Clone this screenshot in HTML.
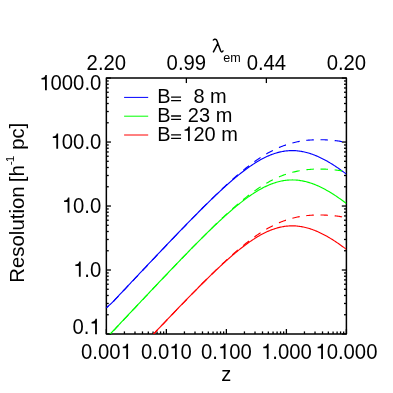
<!DOCTYPE html>
<html><head><meta charset="utf-8"><style>
html,body{margin:0;padding:0;background:#fff;}
svg{display:block;will-change:transform;}
text{font-family:"Liberation Sans",sans-serif;font-size:20.3px;fill:#000;}
</style></head><body>
<svg width="393" height="393" viewBox="0 0 393 393">
<rect width="393" height="393" fill="#fff"/>
<defs><clipPath id="c"><rect x="106.35" y="78.05" width="240.04999999999998" height="255.95"/></clipPath></defs>
<g stroke="#000" stroke-width="1.3">
<line x1="106.35" y1="334.00" x2="106.35" y2="329.00"/>
<line x1="124.42" y1="334.00" x2="124.42" y2="331.40"/>
<line x1="134.98" y1="334.00" x2="134.98" y2="331.40"/>
<line x1="142.48" y1="334.00" x2="142.48" y2="331.40"/>
<line x1="148.30" y1="334.00" x2="148.30" y2="331.40"/>
<line x1="153.05" y1="334.00" x2="153.05" y2="331.40"/>
<line x1="157.07" y1="334.00" x2="157.07" y2="331.40"/>
<line x1="160.55" y1="334.00" x2="160.55" y2="331.40"/>
<line x1="163.62" y1="334.00" x2="163.62" y2="331.40"/>
<line x1="166.36" y1="334.00" x2="166.36" y2="329.00"/>
<line x1="184.43" y1="334.00" x2="184.43" y2="331.40"/>
<line x1="195.00" y1="334.00" x2="195.00" y2="331.40"/>
<line x1="202.49" y1="334.00" x2="202.49" y2="331.40"/>
<line x1="208.31" y1="334.00" x2="208.31" y2="331.40"/>
<line x1="213.06" y1="334.00" x2="213.06" y2="331.40"/>
<line x1="217.08" y1="334.00" x2="217.08" y2="331.40"/>
<line x1="220.56" y1="334.00" x2="220.56" y2="331.40"/>
<line x1="223.63" y1="334.00" x2="223.63" y2="331.40"/>
<line x1="226.38" y1="334.00" x2="226.38" y2="329.00"/>
<line x1="244.44" y1="334.00" x2="244.44" y2="331.40"/>
<line x1="255.01" y1="334.00" x2="255.01" y2="331.40"/>
<line x1="262.51" y1="334.00" x2="262.51" y2="331.40"/>
<line x1="268.32" y1="334.00" x2="268.32" y2="331.40"/>
<line x1="273.07" y1="334.00" x2="273.07" y2="331.40"/>
<line x1="277.09" y1="334.00" x2="277.09" y2="331.40"/>
<line x1="280.57" y1="334.00" x2="280.57" y2="331.40"/>
<line x1="283.64" y1="334.00" x2="283.64" y2="331.40"/>
<line x1="286.39" y1="334.00" x2="286.39" y2="329.00"/>
<line x1="304.45" y1="334.00" x2="304.45" y2="331.40"/>
<line x1="315.02" y1="334.00" x2="315.02" y2="331.40"/>
<line x1="322.52" y1="334.00" x2="322.52" y2="331.40"/>
<line x1="328.33" y1="334.00" x2="328.33" y2="331.40"/>
<line x1="333.09" y1="334.00" x2="333.09" y2="331.40"/>
<line x1="337.10" y1="334.00" x2="337.10" y2="331.40"/>
<line x1="340.58" y1="334.00" x2="340.58" y2="331.40"/>
<line x1="343.65" y1="334.00" x2="343.65" y2="331.40"/>
<line x1="346.40" y1="334.00" x2="346.40" y2="329.00"/>
<line x1="106.35" y1="334.00" x2="110.95" y2="334.00"/>
<line x1="346.40" y1="334.00" x2="341.80" y2="334.00"/>
<line x1="106.35" y1="314.74" x2="108.75" y2="314.74"/>
<line x1="346.40" y1="314.74" x2="344.00" y2="314.74"/>
<line x1="106.35" y1="303.47" x2="108.75" y2="303.47"/>
<line x1="346.40" y1="303.47" x2="344.00" y2="303.47"/>
<line x1="106.35" y1="295.48" x2="108.75" y2="295.48"/>
<line x1="346.40" y1="295.48" x2="344.00" y2="295.48"/>
<line x1="106.35" y1="289.27" x2="108.75" y2="289.27"/>
<line x1="346.40" y1="289.27" x2="344.00" y2="289.27"/>
<line x1="106.35" y1="284.21" x2="108.75" y2="284.21"/>
<line x1="346.40" y1="284.21" x2="344.00" y2="284.21"/>
<line x1="106.35" y1="279.92" x2="108.75" y2="279.92"/>
<line x1="346.40" y1="279.92" x2="344.00" y2="279.92"/>
<line x1="106.35" y1="276.21" x2="108.75" y2="276.21"/>
<line x1="346.40" y1="276.21" x2="344.00" y2="276.21"/>
<line x1="106.35" y1="272.94" x2="108.75" y2="272.94"/>
<line x1="346.40" y1="272.94" x2="344.00" y2="272.94"/>
<line x1="106.35" y1="270.01" x2="110.95" y2="270.01"/>
<line x1="346.40" y1="270.01" x2="341.80" y2="270.01"/>
<line x1="106.35" y1="250.75" x2="108.75" y2="250.75"/>
<line x1="346.40" y1="250.75" x2="344.00" y2="250.75"/>
<line x1="106.35" y1="239.48" x2="108.75" y2="239.48"/>
<line x1="346.40" y1="239.48" x2="344.00" y2="239.48"/>
<line x1="106.35" y1="231.49" x2="108.75" y2="231.49"/>
<line x1="346.40" y1="231.49" x2="344.00" y2="231.49"/>
<line x1="106.35" y1="225.29" x2="108.75" y2="225.29"/>
<line x1="346.40" y1="225.29" x2="344.00" y2="225.29"/>
<line x1="106.35" y1="220.22" x2="108.75" y2="220.22"/>
<line x1="346.40" y1="220.22" x2="344.00" y2="220.22"/>
<line x1="106.35" y1="215.94" x2="108.75" y2="215.94"/>
<line x1="346.40" y1="215.94" x2="344.00" y2="215.94"/>
<line x1="106.35" y1="212.23" x2="108.75" y2="212.23"/>
<line x1="346.40" y1="212.23" x2="344.00" y2="212.23"/>
<line x1="106.35" y1="208.95" x2="108.75" y2="208.95"/>
<line x1="346.40" y1="208.95" x2="344.00" y2="208.95"/>
<line x1="106.35" y1="206.03" x2="110.95" y2="206.03"/>
<line x1="346.40" y1="206.03" x2="341.80" y2="206.03"/>
<line x1="106.35" y1="186.76" x2="108.75" y2="186.76"/>
<line x1="346.40" y1="186.76" x2="344.00" y2="186.76"/>
<line x1="106.35" y1="175.50" x2="108.75" y2="175.50"/>
<line x1="346.40" y1="175.50" x2="344.00" y2="175.50"/>
<line x1="106.35" y1="167.50" x2="108.75" y2="167.50"/>
<line x1="346.40" y1="167.50" x2="344.00" y2="167.50"/>
<line x1="106.35" y1="161.30" x2="108.75" y2="161.30"/>
<line x1="346.40" y1="161.30" x2="344.00" y2="161.30"/>
<line x1="106.35" y1="156.23" x2="108.75" y2="156.23"/>
<line x1="346.40" y1="156.23" x2="344.00" y2="156.23"/>
<line x1="106.35" y1="151.95" x2="108.75" y2="151.95"/>
<line x1="346.40" y1="151.95" x2="344.00" y2="151.95"/>
<line x1="106.35" y1="148.24" x2="108.75" y2="148.24"/>
<line x1="346.40" y1="148.24" x2="344.00" y2="148.24"/>
<line x1="106.35" y1="144.97" x2="108.75" y2="144.97"/>
<line x1="346.40" y1="144.97" x2="344.00" y2="144.97"/>
<line x1="106.35" y1="142.04" x2="110.95" y2="142.04"/>
<line x1="346.40" y1="142.04" x2="341.80" y2="142.04"/>
<line x1="106.35" y1="122.78" x2="108.75" y2="122.78"/>
<line x1="346.40" y1="122.78" x2="344.00" y2="122.78"/>
<line x1="106.35" y1="111.51" x2="108.75" y2="111.51"/>
<line x1="346.40" y1="111.51" x2="344.00" y2="111.51"/>
<line x1="106.35" y1="103.51" x2="108.75" y2="103.51"/>
<line x1="346.40" y1="103.51" x2="344.00" y2="103.51"/>
<line x1="106.35" y1="97.31" x2="108.75" y2="97.31"/>
<line x1="346.40" y1="97.31" x2="344.00" y2="97.31"/>
<line x1="106.35" y1="92.25" x2="108.75" y2="92.25"/>
<line x1="346.40" y1="92.25" x2="344.00" y2="92.25"/>
<line x1="106.35" y1="87.96" x2="108.75" y2="87.96"/>
<line x1="346.40" y1="87.96" x2="344.00" y2="87.96"/>
<line x1="106.35" y1="84.25" x2="108.75" y2="84.25"/>
<line x1="346.40" y1="84.25" x2="344.00" y2="84.25"/>
<line x1="106.35" y1="80.98" x2="108.75" y2="80.98"/>
<line x1="346.40" y1="80.98" x2="344.00" y2="80.98"/>
<line x1="106.35" y1="78.05" x2="110.95" y2="78.05"/>
<line x1="346.40" y1="78.05" x2="341.80" y2="78.05"/>
<line x1="186.37" y1="78.05" x2="186.37" y2="83.05"/>
<line x1="266.38" y1="78.05" x2="266.38" y2="83.05"/>
</g>
<rect x="106.35" y="78.05" width="240.04999999999998" height="255.95" fill="none" stroke="#000" stroke-width="1.5" stroke-linejoin="round"/>
<g clip-path="url(#c)">
<path d="M106.35,307.70 L107.35,306.85 L108.35,305.99 L109.35,305.14 L110.35,304.28 L111.35,303.43 L112.35,302.41 L113.35,301.35 L114.35,300.29 L115.35,299.22 L116.35,298.16 L117.35,297.09 L118.35,296.03 L119.35,294.97 L120.35,293.90 L121.35,292.84 L122.35,291.78 L123.35,290.71 L124.35,289.65 L125.35,288.59 L126.35,287.53 L127.35,286.46 L128.35,285.40 L129.35,284.34 L130.35,283.28 L131.36,282.22 L132.36,281.16 L133.36,280.09 L134.36,279.03 L135.36,277.97 L136.36,276.91 L137.36,275.85 L138.36,274.79 L139.36,273.73 L140.36,272.67 L141.36,271.61 L142.36,270.55 L143.36,269.49 L144.36,268.43 L145.36,267.38 L146.36,266.32 L147.36,265.26 L148.36,264.20 L149.36,263.15 L150.36,262.09 L151.36,261.03 L152.36,259.98 L153.36,258.92 L154.36,257.87 L155.36,256.81 L156.36,255.76 L157.36,254.71 L158.36,253.65 L159.36,252.60 L160.36,251.55 L161.36,250.50 L162.36,249.45 L163.36,248.39 L164.36,247.35 L165.36,246.30 L166.36,245.25 L167.36,244.20 L168.36,243.15 L169.36,242.11 L170.36,241.06 L171.36,240.02 L172.36,238.97 L173.36,237.93 L174.36,236.89 L175.36,235.85 L176.36,234.81 L177.36,233.77 L178.36,232.73 L179.37,231.69 L180.37,230.66 L181.37,229.62 L182.37,228.59 L183.37,227.56 L184.37,226.53 L185.37,225.50 L186.37,224.47 L187.37,223.45 L188.37,222.42 L189.37,221.40 L190.37,220.38 L191.37,219.36 L192.37,218.34 L193.37,217.32 L194.37,216.31 L195.37,215.30 L196.37,214.29 L197.37,213.28 L198.37,212.27 L199.37,211.27 L200.37,210.27 L201.37,209.27 L202.37,208.27 L203.37,207.28 L204.37,206.29 L205.37,205.30 L206.37,204.31 L207.37,203.33 L208.37,202.35 L209.37,201.38 L210.37,200.41 L211.37,199.44 L212.37,198.47 L213.37,197.51 L214.37,196.55 L215.37,195.60 L216.37,194.65 L217.37,193.71 L218.37,192.76 L219.37,191.83 L220.37,190.90 L221.37,189.97 L222.37,189.05 L223.37,188.13 L224.37,187.22 L225.37,186.32 L226.38,185.42 L227.38,184.53 L228.38,183.64 L229.38,182.76 L230.38,181.88 L231.38,181.02 L232.38,180.16 L233.38,179.30 L234.38,178.46 L235.38,177.62 L236.38,176.79 L237.38,175.97 L238.38,175.15 L239.38,174.35 L240.38,173.55 L241.38,172.76 L242.38,171.98 L243.38,171.22 L244.38,170.46 L245.38,169.71 L246.38,168.97 L247.38,168.24 L248.38,167.52 L249.38,166.82 L250.38,166.12 L251.38,165.44 L252.38,164.77 L253.38,164.11 L254.38,163.46 L255.38,162.83 L256.38,162.21 L257.38,161.60 L258.38,161.01 L259.38,160.43 L260.38,159.87 L261.38,159.31 L262.38,158.78 L263.38,158.26 L264.38,157.75 L265.38,157.26 L266.38,156.79 L267.38,156.33 L268.38,155.89 L269.38,155.46 L270.38,155.05 L271.38,154.66 L272.38,154.28 L273.38,153.92 L274.38,153.58 L275.39,153.26 L276.39,152.95 L277.39,152.67 L278.39,152.40 L279.39,152.15 L280.39,151.91 L281.39,151.70 L282.39,151.51 L283.39,151.33 L284.39,151.17 L285.39,151.03 L286.39,150.91 L287.39,150.81 L288.39,150.73 L289.39,150.67 L290.39,150.62 L291.39,150.60 L292.39,150.59 L293.39,150.61 L294.39,150.64 L295.39,150.69 L296.39,150.76 L297.39,150.85 L298.39,150.95 L299.39,151.08 L300.39,151.22 L301.39,151.38 L302.39,151.56 L303.39,151.76 L304.39,151.98 L305.39,152.21 L306.39,152.46 L307.39,152.73 L308.39,153.01 L309.39,153.31 L310.39,153.63 L311.39,153.97 L312.39,154.32 L313.39,154.68 L314.39,155.07 L315.39,155.46 L316.39,155.88 L317.39,156.30 L318.39,156.75 L319.39,157.21 L320.39,157.68 L321.39,158.16 L322.39,158.66 L323.40,159.18 L324.40,159.70 L325.40,160.24 L326.40,160.79 L327.40,161.36 L328.40,161.93 L329.40,162.52 L330.40,163.12 L331.40,163.74 L332.40,164.36 L333.40,164.99 L334.40,165.64 L335.40,166.29 L336.40,166.96 L337.40,167.64 L338.40,168.32 L339.40,169.02 L340.40,169.72 L341.40,170.44 L342.40,171.16 L343.40,171.89 L344.40,172.63 L345.40,173.38 L346.40,174.13" stroke="#0000ff" fill="none" stroke-width="1.15"/>
<path d="M106.35,307.90 L107.35,307.04 L108.35,306.19 L109.35,305.33 L110.35,304.48 L111.35,303.62 L112.35,302.61 L113.35,301.55 L114.35,300.48 L115.35,299.42 L116.35,298.36 L117.35,297.29 L118.35,296.23 L119.35,295.16 L120.35,294.10 L121.35,293.04 L122.35,291.97 L123.35,290.91 L124.35,289.85 L125.35,288.78 L126.35,287.72 L127.35,286.66 L128.35,285.59 L129.35,284.53 L130.35,283.47 L131.36,282.41 L132.36,281.34 L133.36,280.28 L134.36,279.22 L135.36,278.16 L136.36,277.10 L137.36,276.04 L138.36,274.97 L139.36,273.91 L140.36,272.85 L141.36,271.79 L142.36,270.73 L143.36,269.67 L144.36,268.61 L145.36,267.55 L146.36,266.49 L147.36,265.44 L148.36,264.38 L149.36,263.32 L150.36,262.26 L151.36,261.20 L152.36,260.15 L153.36,259.09 L154.36,258.03 L155.36,256.98 L156.36,255.92 L157.36,254.87 L158.36,253.81 L159.36,252.76 L160.36,251.70 L161.36,250.65 L162.36,249.60 L163.36,248.54 L164.36,247.49 L165.36,246.44 L166.36,245.39 L167.36,244.34 L168.36,243.29 L169.36,242.24 L170.36,241.19 L171.36,240.14 L172.36,239.10 L173.36,238.05 L174.36,237.01 L175.36,235.96 L176.36,234.92 L177.36,233.88 L178.36,232.83 L179.37,231.79 L180.37,230.75 L181.37,229.71 L182.37,228.68 L183.37,227.64 L184.37,226.60 L185.37,225.57 L186.37,224.54 L187.37,223.50 L188.37,222.47 L189.37,221.44 L190.37,220.42 L191.37,219.39 L192.37,218.37 L193.37,217.34 L194.37,216.32 L195.37,215.30 L196.37,214.28 L197.37,213.27 L198.37,212.25 L199.37,211.24 L200.37,210.23 L201.37,209.22 L202.37,208.22 L203.37,207.21 L204.37,206.21 L205.37,205.21 L206.37,204.21 L207.37,203.22 L208.37,202.23 L209.37,201.24 L210.37,200.25 L211.37,199.27 L212.37,198.29 L213.37,197.32 L214.37,196.34 L215.37,195.37 L216.37,194.41 L217.37,193.44 L218.37,192.49 L219.37,191.53 L220.37,190.58 L221.37,189.63 L222.37,188.69 L223.37,187.75 L224.37,186.82 L225.37,185.89 L226.38,184.96 L227.38,184.05 L228.38,183.13 L229.38,182.22 L230.38,181.32 L231.38,180.42 L232.38,179.53 L233.38,178.64 L234.38,177.76 L235.38,176.89 L236.38,176.02 L237.38,175.16 L238.38,174.31 L239.38,173.46 L240.38,172.62 L241.38,171.79 L242.38,170.96 L243.38,170.15 L244.38,169.34 L245.38,168.54 L246.38,167.74 L247.38,166.96 L248.38,166.19 L249.38,165.42 L250.38,164.66 L251.38,163.91 L252.38,163.17 L253.38,162.45 L254.38,161.73 L255.38,161.02 L256.38,160.32 L257.38,159.63 L258.38,158.95 L259.38,158.28 L260.38,157.63 L261.38,156.98 L262.38,156.35 L263.38,155.72 L264.38,155.11 L265.38,154.51 L266.38,153.92 L267.38,153.35 L268.38,152.78 L269.38,152.23 L270.38,151.69 L271.38,151.16 L272.38,150.65 L273.38,150.15 L274.38,149.66 L275.39,149.18 L276.39,148.71 L277.39,148.26 L278.39,147.82 L279.39,147.39 L280.39,146.98 L281.39,146.57 L282.39,146.18 L283.39,145.81 L284.39,145.44 L285.39,145.09 L286.39,144.75 L287.39,144.42 L288.39,144.11 L289.39,143.81 L290.39,143.51 L291.39,143.24 L292.39,142.97 L293.39,142.71 L294.39,142.47 L295.39,142.24 L296.39,142.02 L297.39,141.81 L298.39,141.61 L299.39,141.42 L300.39,141.24 L301.39,141.08 L302.39,140.92 L303.39,140.77 L304.39,140.64 L305.39,140.51 L306.39,140.40 L307.39,140.29 L308.39,140.19 L309.39,140.10 L310.39,140.03 L311.39,139.96 L312.39,139.90 L313.39,139.84 L314.39,139.80 L315.39,139.76 L316.39,139.74 L317.39,139.72 L318.39,139.71 L319.39,139.70 L320.39,139.71 L321.39,139.72 L322.39,139.74 L323.40,139.77 L324.40,139.80 L325.40,139.84 L326.40,139.89 L327.40,139.95 L328.40,140.01 L329.40,140.09 L330.40,140.16 L331.40,140.25 L332.40,140.34 L333.40,140.44 L334.40,140.54 L335.40,140.66 L336.40,140.78 L337.40,140.90 L338.40,141.03 L339.40,141.17 L340.40,141.32 L341.40,141.48 L342.40,141.64 L343.40,141.80 L344.40,141.98 L345.40,142.16 L346.40,142.35" stroke="#0000ff" fill="none" stroke-width="1.15" stroke-dasharray="7.5 6.7" stroke-dashoffset="4.7"/>
<path d="M106.35,337.05 L107.35,336.19 L108.35,335.34 L109.35,334.48 L110.35,333.63 L111.35,332.77 L112.35,331.76 L113.35,330.70 L114.35,329.63 L115.35,328.57 L116.35,327.51 L117.35,326.44 L118.35,325.38 L119.35,324.31 L120.35,323.25 L121.35,322.19 L122.35,321.12 L123.35,320.06 L124.35,319.00 L125.35,317.94 L126.35,316.87 L127.35,315.81 L128.35,314.75 L129.35,313.69 L130.35,312.63 L131.36,311.56 L132.36,310.50 L133.36,309.44 L134.36,308.38 L135.36,307.32 L136.36,306.26 L137.36,305.20 L138.36,304.14 L139.36,303.08 L140.36,302.02 L141.36,300.96 L142.36,299.90 L143.36,298.84 L144.36,297.78 L145.36,296.72 L146.36,295.67 L147.36,294.61 L148.36,293.55 L149.36,292.49 L150.36,291.44 L151.36,290.38 L152.36,289.32 L153.36,288.27 L154.36,287.21 L155.36,286.16 L156.36,285.11 L157.36,284.05 L158.36,283.00 L159.36,281.95 L160.36,280.89 L161.36,279.84 L162.36,278.79 L163.36,277.74 L164.36,276.69 L165.36,275.64 L166.36,274.59 L167.36,273.55 L168.36,272.50 L169.36,271.45 L170.36,270.41 L171.36,269.36 L172.36,268.32 L173.36,267.28 L174.36,266.24 L175.36,265.20 L176.36,264.16 L177.36,263.12 L178.36,262.08 L179.37,261.04 L180.37,260.01 L181.37,258.97 L182.37,257.94 L183.37,256.91 L184.37,255.88 L185.37,254.85 L186.37,253.82 L187.37,252.79 L188.37,251.77 L189.37,250.74 L190.37,249.72 L191.37,248.70 L192.37,247.69 L193.37,246.67 L194.37,245.65 L195.37,244.64 L196.37,243.63 L197.37,242.62 L198.37,241.62 L199.37,240.61 L200.37,239.61 L201.37,238.61 L202.37,237.62 L203.37,236.62 L204.37,235.63 L205.37,234.65 L206.37,233.66 L207.37,232.68 L208.37,231.70 L209.37,230.72 L210.37,229.75 L211.37,228.78 L212.37,227.82 L213.37,226.86 L214.37,225.90 L215.37,224.95 L216.37,224.00 L217.37,223.05 L218.37,222.11 L219.37,221.18 L220.37,220.24 L221.37,219.32 L222.37,218.40 L223.37,217.48 L224.37,216.57 L225.37,215.67 L226.38,214.77 L227.38,213.87 L228.38,212.99 L229.38,212.11 L230.38,211.23 L231.38,210.36 L232.38,209.50 L233.38,208.65 L234.38,207.80 L235.38,206.97 L236.38,206.14 L237.38,205.31 L238.38,204.50 L239.38,203.69 L240.38,202.90 L241.38,202.11 L242.38,201.33 L243.38,200.56 L244.38,199.80 L245.38,199.05 L246.38,198.32 L247.38,197.59 L248.38,196.87 L249.38,196.16 L250.38,195.47 L251.38,194.79 L252.38,194.12 L253.38,193.46 L254.38,192.81 L255.38,192.18 L256.38,191.56 L257.38,190.95 L258.38,190.36 L259.38,189.78 L260.38,189.21 L261.38,188.66 L262.38,188.13 L263.38,187.60 L264.38,187.10 L265.38,186.61 L266.38,186.13 L267.38,185.67 L268.38,185.23 L269.38,184.81 L270.38,184.40 L271.38,184.00 L272.38,183.63 L273.38,183.27 L274.38,182.93 L275.39,182.61 L276.39,182.30 L277.39,182.01 L278.39,181.75 L279.39,181.49 L280.39,181.26 L281.39,181.05 L282.39,180.85 L283.39,180.68 L284.39,180.52 L285.39,180.38 L286.39,180.26 L287.39,180.16 L288.39,180.08 L289.39,180.01 L290.39,179.97 L291.39,179.95 L292.39,179.94 L293.39,179.95 L294.39,179.98 L295.39,180.03 L296.39,180.10 L297.39,180.19 L298.39,180.30 L299.39,180.42 L300.39,180.57 L301.39,180.73 L302.39,180.91 L303.39,181.11 L304.39,181.32 L305.39,181.56 L306.39,181.81 L307.39,182.07 L308.39,182.36 L309.39,182.66 L310.39,182.98 L311.39,183.31 L312.39,183.66 L313.39,184.03 L314.39,184.41 L315.39,184.81 L316.39,185.22 L317.39,185.65 L318.39,186.09 L319.39,186.55 L320.39,187.02 L321.39,187.51 L322.39,188.01 L323.40,188.52 L324.40,189.05 L325.40,189.59 L326.40,190.14 L327.40,190.71 L328.40,191.28 L329.40,191.87 L330.40,192.47 L331.40,193.08 L332.40,193.71 L333.40,194.34 L334.40,194.99 L335.40,195.64 L336.40,196.31 L337.40,196.98 L338.40,197.67 L339.40,198.36 L340.40,199.07 L341.40,199.78 L342.40,200.51 L343.40,201.24 L344.40,201.98 L345.40,202.73 L346.40,203.48" stroke="#00ff00" fill="none" stroke-width="1.15"/>
<path d="M106.35,337.25 L107.35,336.39 L108.35,335.54 L109.35,334.68 L110.35,333.83 L111.35,332.97 L112.35,331.96 L113.35,330.89 L114.35,329.83 L115.35,328.77 L116.35,327.70 L117.35,326.64 L118.35,325.57 L119.35,324.51 L120.35,323.45 L121.35,322.38 L122.35,321.32 L123.35,320.26 L124.35,319.19 L125.35,318.13 L126.35,317.07 L127.35,316.00 L128.35,314.94 L129.35,313.88 L130.35,312.82 L131.36,311.75 L132.36,310.69 L133.36,309.63 L134.36,308.57 L135.36,307.51 L136.36,306.44 L137.36,305.38 L138.36,304.32 L139.36,303.26 L140.36,302.20 L141.36,301.14 L142.36,300.08 L143.36,299.02 L144.36,297.96 L145.36,296.90 L146.36,295.84 L147.36,294.78 L148.36,293.72 L149.36,292.67 L150.36,291.61 L151.36,290.55 L152.36,289.49 L153.36,288.44 L154.36,287.38 L155.36,286.32 L156.36,285.27 L157.36,284.21 L158.36,283.16 L159.36,282.10 L160.36,281.05 L161.36,280.00 L162.36,278.94 L163.36,277.89 L164.36,276.84 L165.36,275.79 L166.36,274.74 L167.36,273.69 L168.36,272.64 L169.36,271.59 L170.36,270.54 L171.36,269.49 L172.36,268.44 L173.36,267.40 L174.36,266.35 L175.36,265.31 L176.36,264.27 L177.36,263.22 L178.36,262.18 L179.37,261.14 L180.37,260.10 L181.37,259.06 L182.37,258.02 L183.37,256.99 L184.37,255.95 L185.37,254.92 L186.37,253.88 L187.37,252.85 L188.37,251.82 L189.37,250.79 L190.37,249.76 L191.37,248.74 L192.37,247.71 L193.37,246.69 L194.37,245.67 L195.37,244.65 L196.37,243.63 L197.37,242.61 L198.37,241.60 L199.37,240.59 L200.37,239.58 L201.37,238.57 L202.37,237.56 L203.37,236.56 L204.37,235.56 L205.37,234.56 L206.37,233.56 L207.37,232.57 L208.37,231.58 L209.37,230.59 L210.37,229.60 L211.37,228.62 L212.37,227.64 L213.37,226.66 L214.37,225.69 L215.37,224.72 L216.37,223.75 L217.37,222.79 L218.37,221.83 L219.37,220.88 L220.37,219.93 L221.37,218.98 L222.37,218.04 L223.37,217.10 L224.37,216.16 L225.37,215.24 L226.38,214.31 L227.38,213.39 L228.38,212.48 L229.38,211.57 L230.38,210.67 L231.38,209.77 L232.38,208.88 L233.38,207.99 L234.38,207.11 L235.38,206.24 L236.38,205.37 L237.38,204.51 L238.38,203.65 L239.38,202.81 L240.38,201.97 L241.38,201.14 L242.38,200.31 L243.38,199.49 L244.38,198.69 L245.38,197.88 L246.38,197.09 L247.38,196.31 L248.38,195.53 L249.38,194.77 L250.38,194.01 L251.38,193.26 L252.38,192.52 L253.38,191.79 L254.38,191.07 L255.38,190.36 L256.38,189.66 L257.38,188.98 L258.38,188.30 L259.38,187.63 L260.38,186.97 L261.38,186.33 L262.38,185.69 L263.38,185.07 L264.38,184.46 L265.38,183.86 L266.38,183.27 L267.38,182.70 L268.38,182.13 L269.38,181.58 L270.38,181.04 L271.38,180.51 L272.38,180.00 L273.38,179.49 L274.38,179.00 L275.39,178.52 L276.39,178.06 L277.39,177.61 L278.39,177.17 L279.39,176.74 L280.39,176.32 L281.39,175.92 L282.39,175.53 L283.39,175.15 L284.39,174.79 L285.39,174.44 L286.39,174.10 L287.39,173.77 L288.39,173.46 L289.39,173.15 L290.39,172.86 L291.39,172.58 L292.39,172.32 L293.39,172.06 L294.39,171.82 L295.39,171.58 L296.39,171.36 L297.39,171.15 L298.39,170.95 L299.39,170.77 L300.39,170.59 L301.39,170.42 L302.39,170.27 L303.39,170.12 L304.39,169.99 L305.39,169.86 L306.39,169.74 L307.39,169.64 L308.39,169.54 L309.39,169.45 L310.39,169.37 L311.39,169.30 L312.39,169.24 L313.39,169.19 L314.39,169.15 L315.39,169.11 L316.39,169.08 L317.39,169.06 L318.39,169.05 L319.39,169.05 L320.39,169.06 L321.39,169.07 L322.39,169.09 L323.40,169.12 L324.40,169.15 L325.40,169.19 L326.40,169.24 L327.40,169.30 L328.40,169.36 L329.40,169.43 L330.40,169.51 L331.40,169.59 L332.40,169.69 L333.40,169.79 L334.40,169.89 L335.40,170.00 L336.40,170.12 L337.40,170.25 L338.40,170.38 L339.40,170.52 L340.40,170.67 L341.40,170.82 L342.40,170.98 L343.40,171.15 L344.40,171.33 L345.40,171.51 L346.40,171.70" stroke="#00ff00" fill="none" stroke-width="1.15" stroke-dasharray="7.5 6.7" stroke-dashoffset="4.7"/>
<path d="M106.35,382.96 L107.35,382.10 L108.35,381.25 L109.35,380.39 L110.35,379.54 L111.35,378.68 L112.35,377.67 L113.35,376.60 L114.35,375.54 L115.35,374.48 L116.35,373.41 L117.35,372.35 L118.35,371.29 L119.35,370.22 L120.35,369.16 L121.35,368.10 L122.35,367.03 L123.35,365.97 L124.35,364.91 L125.35,363.84 L126.35,362.78 L127.35,361.72 L128.35,360.66 L129.35,359.60 L130.35,358.53 L131.36,357.47 L132.36,356.41 L133.36,355.35 L134.36,354.29 L135.36,353.23 L136.36,352.17 L137.36,351.11 L138.36,350.05 L139.36,348.99 L140.36,347.93 L141.36,346.87 L142.36,345.81 L143.36,344.75 L144.36,343.69 L145.36,342.63 L146.36,341.57 L147.36,340.52 L148.36,339.46 L149.36,338.40 L150.36,337.34 L151.36,336.29 L152.36,335.23 L153.36,334.18 L154.36,333.12 L155.36,332.07 L156.36,331.01 L157.36,329.96 L158.36,328.91 L159.36,327.85 L160.36,326.80 L161.36,325.75 L162.36,324.70 L163.36,323.65 L164.36,322.60 L165.36,321.55 L166.36,320.50 L167.36,319.46 L168.36,318.41 L169.36,317.36 L170.36,316.32 L171.36,315.27 L172.36,314.23 L173.36,313.19 L174.36,312.14 L175.36,311.10 L176.36,310.06 L177.36,309.02 L178.36,307.99 L179.37,306.95 L180.37,305.91 L181.37,304.88 L182.37,303.85 L183.37,302.81 L184.37,301.78 L185.37,300.75 L186.37,299.73 L187.37,298.70 L188.37,297.68 L189.37,296.65 L190.37,295.63 L191.37,294.61 L192.37,293.59 L193.37,292.58 L194.37,291.56 L195.37,290.55 L196.37,289.54 L197.37,288.53 L198.37,287.53 L199.37,286.52 L200.37,285.52 L201.37,284.52 L202.37,283.53 L203.37,282.53 L204.37,281.54 L205.37,280.55 L206.37,279.57 L207.37,278.59 L208.37,277.61 L209.37,276.63 L210.37,275.66 L211.37,274.69 L212.37,273.73 L213.37,272.77 L214.37,271.81 L215.37,270.85 L216.37,269.91 L217.37,268.96 L218.37,268.02 L219.37,267.08 L220.37,266.15 L221.37,265.23 L222.37,264.31 L223.37,263.39 L224.37,262.48 L225.37,261.57 L226.38,260.67 L227.38,259.78 L228.38,258.89 L229.38,258.01 L230.38,257.14 L231.38,256.27 L232.38,255.41 L233.38,254.56 L234.38,253.71 L235.38,252.87 L236.38,252.04 L237.38,251.22 L238.38,250.41 L239.38,249.60 L240.38,248.81 L241.38,248.02 L242.38,247.24 L243.38,246.47 L244.38,245.71 L245.38,244.96 L246.38,244.22 L247.38,243.50 L248.38,242.78 L249.38,242.07 L250.38,241.38 L251.38,240.70 L252.38,240.02 L253.38,239.37 L254.38,238.72 L255.38,238.09 L256.38,237.47 L257.38,236.86 L258.38,236.27 L259.38,235.69 L260.38,235.12 L261.38,234.57 L262.38,234.03 L263.38,233.51 L264.38,233.01 L265.38,232.52 L266.38,232.04 L267.38,231.58 L268.38,231.14 L269.38,230.71 L270.38,230.30 L271.38,229.91 L272.38,229.54 L273.38,229.18 L274.38,228.84 L275.39,228.51 L276.39,228.21 L277.39,227.92 L278.39,227.65 L279.39,227.40 L280.39,227.17 L281.39,226.96 L282.39,226.76 L283.39,226.58 L284.39,226.43 L285.39,226.29 L286.39,226.17 L287.39,226.07 L288.39,225.99 L289.39,225.92 L290.39,225.88 L291.39,225.85 L292.39,225.85 L293.39,225.86 L294.39,225.89 L295.39,225.94 L296.39,226.01 L297.39,226.10 L298.39,226.21 L299.39,226.33 L300.39,226.48 L301.39,226.64 L302.39,226.82 L303.39,227.01 L304.39,227.23 L305.39,227.46 L306.39,227.71 L307.39,227.98 L308.39,228.27 L309.39,228.57 L310.39,228.89 L311.39,229.22 L312.39,229.57 L313.39,229.94 L314.39,230.32 L315.39,230.72 L316.39,231.13 L317.39,231.56 L318.39,232.00 L319.39,232.46 L320.39,232.93 L321.39,233.42 L322.39,233.92 L323.40,234.43 L324.40,234.96 L325.40,235.50 L326.40,236.05 L327.40,236.61 L328.40,237.19 L329.40,237.78 L330.40,238.38 L331.40,238.99 L332.40,239.61 L333.40,240.25 L334.40,240.89 L335.40,241.55 L336.40,242.22 L337.40,242.89 L338.40,243.58 L339.40,244.27 L340.40,244.98 L341.40,245.69 L342.40,246.41 L343.40,247.15 L344.40,247.89 L345.40,248.63 L346.40,249.39" stroke="#ff0000" fill="none" stroke-width="1.15"/>
<path d="M106.35,383.16 L107.35,382.30 L108.35,381.44 L109.35,380.59 L110.35,379.73 L111.35,378.88 L112.35,377.87 L113.35,376.80 L114.35,375.74 L115.35,374.67 L116.35,373.61 L117.35,372.55 L118.35,371.48 L119.35,370.42 L120.35,369.35 L121.35,368.29 L122.35,367.23 L123.35,366.16 L124.35,365.10 L125.35,364.04 L126.35,362.97 L127.35,361.91 L128.35,360.85 L129.35,359.79 L130.35,358.72 L131.36,357.66 L132.36,356.60 L133.36,355.54 L134.36,354.48 L135.36,353.41 L136.36,352.35 L137.36,351.29 L138.36,350.23 L139.36,349.17 L140.36,348.11 L141.36,347.05 L142.36,345.99 L143.36,344.93 L144.36,343.87 L145.36,342.81 L146.36,341.75 L147.36,340.69 L148.36,339.63 L149.36,338.57 L150.36,337.52 L151.36,336.46 L152.36,335.40 L153.36,334.34 L154.36,333.29 L155.36,332.23 L156.36,331.18 L157.36,330.12 L158.36,329.07 L159.36,328.01 L160.36,326.96 L161.36,325.90 L162.36,324.85 L163.36,323.80 L164.36,322.75 L165.36,321.69 L166.36,320.64 L167.36,319.59 L168.36,318.54 L169.36,317.50 L170.36,316.45 L171.36,315.40 L172.36,314.35 L173.36,313.31 L174.36,312.26 L175.36,311.22 L176.36,310.17 L177.36,309.13 L178.36,308.09 L179.37,307.05 L180.37,306.01 L181.37,304.97 L182.37,303.93 L183.37,302.89 L184.37,301.86 L185.37,300.82 L186.37,299.79 L187.37,298.76 L188.37,297.73 L189.37,296.70 L190.37,295.67 L191.37,294.65 L192.37,293.62 L193.37,292.60 L194.37,291.58 L195.37,290.56 L196.37,289.54 L197.37,288.52 L198.37,287.51 L199.37,286.50 L200.37,285.48 L201.37,284.48 L202.37,283.47 L203.37,282.47 L204.37,281.47 L205.37,280.47 L206.37,279.47 L207.37,278.48 L208.37,277.48 L209.37,276.50 L210.37,275.51 L211.37,274.53 L212.37,273.55 L213.37,272.57 L214.37,271.60 L215.37,270.63 L216.37,269.66 L217.37,268.70 L218.37,267.74 L219.37,266.79 L220.37,265.83 L221.37,264.89 L222.37,263.94 L223.37,263.01 L224.37,262.07 L225.37,261.14 L226.38,260.22 L227.38,259.30 L228.38,258.39 L229.38,257.48 L230.38,256.57 L231.38,255.68 L232.38,254.78 L233.38,253.90 L234.38,253.02 L235.38,252.14 L236.38,251.28 L237.38,250.42 L238.38,249.56 L239.38,248.72 L240.38,247.88 L241.38,247.04 L242.38,246.22 L243.38,245.40 L244.38,244.59 L245.38,243.79 L246.38,243.00 L247.38,242.22 L248.38,241.44 L249.38,240.67 L250.38,239.92 L251.38,239.17 L252.38,238.43 L253.38,237.70 L254.38,236.98 L255.38,236.27 L256.38,235.57 L257.38,234.88 L258.38,234.21 L259.38,233.54 L260.38,232.88 L261.38,232.24 L262.38,231.60 L263.38,230.98 L264.38,230.37 L265.38,229.77 L266.38,229.18 L267.38,228.60 L268.38,228.04 L269.38,227.49 L270.38,226.95 L271.38,226.42 L272.38,225.90 L273.38,225.40 L274.38,224.91 L275.39,224.43 L276.39,223.97 L277.39,223.51 L278.39,223.07 L279.39,222.65 L280.39,222.23 L281.39,221.83 L282.39,221.44 L283.39,221.06 L284.39,220.70 L285.39,220.35 L286.39,220.01 L287.39,219.68 L288.39,219.36 L289.39,219.06 L290.39,218.77 L291.39,218.49 L292.39,218.22 L293.39,217.97 L294.39,217.72 L295.39,217.49 L296.39,217.27 L297.39,217.06 L298.39,216.86 L299.39,216.67 L300.39,216.50 L301.39,216.33 L302.39,216.17 L303.39,216.03 L304.39,215.89 L305.39,215.77 L306.39,215.65 L307.39,215.54 L308.39,215.45 L309.39,215.36 L310.39,215.28 L311.39,215.21 L312.39,215.15 L313.39,215.10 L314.39,215.05 L315.39,215.02 L316.39,214.99 L317.39,214.97 L318.39,214.96 L319.39,214.96 L320.39,214.96 L321.39,214.98 L322.39,215.00 L323.40,215.02 L324.40,215.06 L325.40,215.10 L326.40,215.15 L327.40,215.21 L328.40,215.27 L329.40,215.34 L330.40,215.42 L331.40,215.50 L332.40,215.59 L333.40,215.69 L334.40,215.80 L335.40,215.91 L336.40,216.03 L337.40,216.16 L338.40,216.29 L339.40,216.43 L340.40,216.58 L341.40,216.73 L342.40,216.89 L343.40,217.06 L344.40,217.23 L345.40,217.42 L346.40,217.60" stroke="#ff0000" fill="none" stroke-width="1.15" stroke-dasharray="7.5 6.7" stroke-dashoffset="4.7"/>
</g>
<text transform="translate(106.35,70.00) scale(1,1.065)" text-anchor="middle" style="font-size:20.30px" xml:space="preserve">2.20</text>
<text transform="translate(186.37,70.00) scale(1,1.065)" text-anchor="middle" style="font-size:20.30px" xml:space="preserve">0.99</text>
<text transform="translate(266.38,70.00) scale(1,1.065)" text-anchor="middle" style="font-size:20.30px" xml:space="preserve">0.44</text>
<text transform="translate(346.40,70.00) scale(1,1.065)" text-anchor="middle" style="font-size:20.30px" xml:space="preserve">0.20</text>
<text transform="translate(80.95,359.00) scale(1,1.065)" text-anchor="start" style="font-size:20.30px" xml:space="preserve">0.00</text>
<path transform="translate(120.46,359.00) scale(20.300,-21.619)" d="M0.375,0 L0.375,0.709 L0.305,0.709 C0.293,0.625 0.225,0.572 0.112,0.566 L0.112,0.497 L0.285,0.497 L0.285,0 Z" fill="#000"/>
<text transform="translate(140.97,359.00) scale(1,1.065)" text-anchor="start" style="font-size:20.30px" xml:space="preserve">0.0</text>
<path transform="translate(169.18,359.00) scale(20.300,-21.619)" d="M0.375,0 L0.375,0.709 L0.305,0.709 C0.293,0.625 0.225,0.572 0.112,0.566 L0.112,0.497 L0.285,0.497 L0.285,0 Z" fill="#000"/>
<text transform="translate(180.47,359.00) scale(1,1.065)" text-anchor="start" style="font-size:20.30px" xml:space="preserve">0</text>
<text transform="translate(200.98,359.00) scale(1,1.065)" text-anchor="start" style="font-size:20.30px" xml:space="preserve">0.</text>
<path transform="translate(217.91,359.00) scale(20.300,-21.619)" d="M0.375,0 L0.375,0.709 L0.305,0.709 C0.293,0.625 0.225,0.572 0.112,0.566 L0.112,0.497 L0.285,0.497 L0.285,0 Z" fill="#000"/>
<text transform="translate(229.20,359.00) scale(1,1.065)" text-anchor="start" style="font-size:20.30px" xml:space="preserve">00</text>
<path transform="translate(260.99,359.00) scale(20.300,-21.619)" d="M0.375,0 L0.375,0.709 L0.305,0.709 C0.293,0.625 0.225,0.572 0.112,0.566 L0.112,0.497 L0.285,0.497 L0.285,0 Z" fill="#000"/>
<text transform="translate(272.28,359.00) scale(1,1.065)" text-anchor="start" style="font-size:20.30px" xml:space="preserve">.000</text>
<path transform="translate(315.36,359.00) scale(20.300,-21.619)" d="M0.375,0 L0.375,0.709 L0.305,0.709 C0.293,0.625 0.225,0.572 0.112,0.566 L0.112,0.497 L0.285,0.497 L0.285,0 Z" fill="#000"/>
<text transform="translate(326.65,359.00) scale(1,1.065)" text-anchor="start" style="font-size:20.30px" xml:space="preserve">0.000</text>
<text transform="translate(226.30,381.00) scale(1,1.000)" text-anchor="middle" style="font-size:20.00px" xml:space="preserve">z</text>
<text transform="translate(223.20,61.50) scale(1,1.000)" text-anchor="start" style="font-size:12.60px" xml:space="preserve">em</text>
<path transform="translate(39.22,90.30) scale(20.300,-21.619)" d="M0.375,0 L0.375,0.709 L0.305,0.709 C0.293,0.625 0.225,0.572 0.112,0.566 L0.112,0.497 L0.285,0.497 L0.285,0 Z" fill="#000"/>
<text transform="translate(50.51,90.30) scale(1,1.065)" text-anchor="start" style="font-size:20.30px" xml:space="preserve">000.0</text>
<path transform="translate(50.51,148.84) scale(20.300,-21.619)" d="M0.375,0 L0.375,0.709 L0.305,0.709 C0.293,0.625 0.225,0.572 0.112,0.566 L0.112,0.497 L0.285,0.497 L0.285,0 Z" fill="#000"/>
<text transform="translate(61.80,148.84) scale(1,1.065)" text-anchor="start" style="font-size:20.30px" xml:space="preserve">00.0</text>
<path transform="translate(61.80,212.82) scale(20.300,-21.619)" d="M0.375,0 L0.375,0.709 L0.305,0.709 C0.293,0.625 0.225,0.572 0.112,0.566 L0.112,0.497 L0.285,0.497 L0.285,0 Z" fill="#000"/>
<text transform="translate(73.08,212.82) scale(1,1.065)" text-anchor="start" style="font-size:20.30px" xml:space="preserve">0.0</text>
<path transform="translate(73.08,276.81) scale(20.300,-21.619)" d="M0.375,0 L0.375,0.709 L0.305,0.709 C0.293,0.625 0.225,0.572 0.112,0.566 L0.112,0.497 L0.285,0.497 L0.285,0 Z" fill="#000"/>
<text transform="translate(84.37,276.81) scale(1,1.065)" text-anchor="start" style="font-size:20.30px" xml:space="preserve">.0</text>
<text transform="translate(72.38,334.20) scale(1,1.065)" text-anchor="start" style="font-size:20.30px" xml:space="preserve">0.</text>
<path transform="translate(89.31,334.20) scale(20.300,-21.619)" d="M0.375,0 L0.375,0.709 L0.305,0.709 C0.293,0.625 0.225,0.572 0.112,0.566 L0.112,0.497 L0.285,0.497 L0.285,0 Z" fill="#000"/>
<text transform="translate(157.30,103.10) scale(1,1.015)" text-anchor="start" style="font-size:20.00px" xml:space="preserve">B</text>
<path transform="translate(170.64,103.10) scale(20.000,-20.300)" d="M0.023,0.264 H0.52 V0.328 H0.023 Z M0.023,0.094 H0.52 V0.158 H0.023 Z" fill="#000"/>
<text transform="translate(182.32,103.10) scale(1,1.015)" text-anchor="start" style="font-size:20.00px" xml:space="preserve">  8 m</text>
<text transform="translate(157.30,122.00) scale(1,1.015)" text-anchor="start" style="font-size:20.00px" xml:space="preserve">B</text>
<path transform="translate(170.64,122.00) scale(20.000,-20.300)" d="M0.023,0.264 H0.52 V0.328 H0.023 Z M0.023,0.094 H0.52 V0.158 H0.023 Z" fill="#000"/>
<text transform="translate(182.32,122.00) scale(1,1.015)" text-anchor="start" style="font-size:20.00px" xml:space="preserve"> 23 m</text>
<text transform="translate(157.30,140.90) scale(1,1.015)" text-anchor="start" style="font-size:20.00px" xml:space="preserve">B</text>
<path transform="translate(170.64,140.90) scale(20.000,-20.300)" d="M0.023,0.264 H0.52 V0.328 H0.023 Z M0.023,0.094 H0.52 V0.158 H0.023 Z" fill="#000"/>
<path transform="translate(182.32,140.90) scale(20.000,-20.300)" d="M0.375,0 L0.375,0.709 L0.305,0.709 C0.293,0.625 0.225,0.572 0.112,0.566 L0.112,0.497 L0.285,0.497 L0.285,0 Z" fill="#000"/>
<text transform="translate(193.44,140.90) scale(1,1.015)" text-anchor="start" style="font-size:20.00px" xml:space="preserve">20 m</text>
<text transform="translate(24.4,202.75) rotate(-90) scale(1,0.98)" text-anchor="middle" style="font-size:20.3px"><tspan letter-spacing="0.05">Resolution</tspan><tspan dx="-1.42"> [h</tspan><tspan dy="-10.5" style="font-size:12px">-</tspan><tspan dx="-0.9" style="font-size:12px">1</tspan><tspan dy="10.5" dx="0"> pc]</tspan></text>
<path d="M213.1,40.6 C213.6,39.2 215.4,38.6 216.4,39.8 C217.2,40.8 217.6,42.4 218.2,44.2 L220.5,50.6 C221.0,52.2 222.6,52.6 223.2,50.4 M217.7,43.6 L213.2,52.4" fill="none" stroke="#000" stroke-width="1.5" stroke-linecap="butt" stroke-linejoin="round"/>
<g stroke-width="1">
<line x1="124.1" y1="97.4" x2="148.2" y2="97.4" stroke="#0000ff"/>
<line x1="124.1" y1="116.2" x2="148.2" y2="116.2" stroke="#00ff00"/>
<line x1="124.1" y1="135.0" x2="148.2" y2="135.0" stroke="#ff0000"/>
</g>
</svg>
</body></html>
